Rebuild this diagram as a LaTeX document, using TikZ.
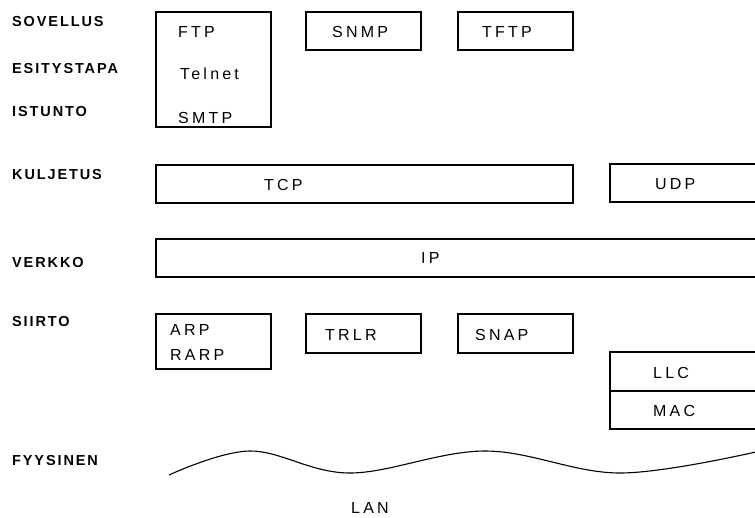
\documentclass[tikz,border=0pt]{standalone}
\usepackage{fontspec}
\setmainfont{Liberation Sans}
\begin{document}
\begin{tikzpicture}[x=1pt,y=-1pt,
  box/.style={draw,line width=1.3pt},
  lbl/.style={anchor=west,inner sep=0pt,font=\fontsize{14.5}{16}\selectfont\bfseries\addfontfeatures{LetterSpace=13}},
  txt/.style={anchor=west,inner sep=0pt,font=\fontsize{16}{18}\selectfont\addfontfeatures{LetterSpace=20}}]
\useasboundingbox (0,0) rectangle (755,517);
\clip (0,0) rectangle (755,517);
% layer labels
\node[lbl] (l1) at (12,22) {SOVELLUS};
\node[lbl] (l2) at (12,69) {ESITYSTAPA};
\node[lbl] (l3) at (12,112) {ISTUNTO};
\node[lbl] (l4) at (12,175) {KULJETUS};
\node[lbl] (l5) at (12,263) {VERKKO};
\node[lbl] (l6) at (12,322) {SIIRTO};
\node[lbl] (l7) at (12,461) {FYYSINEN};
% boxes
\draw[box] (156,12) rectangle (271,127) coordinate (bftp);
\draw[box] (306,12) rectangle (421,50) coordinate (bsnmp);
\draw[box] (458,12) rectangle (573,50) coordinate (btftp);
\draw[box] (156,165) rectangle (573,203) coordinate (btcp);
\draw[box] (610,164) rectangle (765,202) coordinate (budp);
\draw[box] (156,239) rectangle (765,277) coordinate (bip);
\draw[box] (156,314) rectangle (271,369) coordinate (barp);
\draw[box] (306,314) rectangle (421,353) coordinate (btrlr);
\draw[box] (458,314) rectangle (573,353) coordinate (bsnap);
\draw[box] (610,352) rectangle (765,429) coordinate (bllc);
\draw[box] (610,391) -- (765,391);
% texts
\node[txt] (tftp) at (178,32) {FTP};
\node[txt] (ttel) at (180,73.5) {Telnet};
\node[txt] (tsmtp) at (178,117.5) {SMTP};
\node[txt] (tsnmp) at (332,31.5) {SNMP};
\node[txt] (ttftp) at (482,31.5) {TFTP};
\node[txt] (ttcp) at (264,184.5) {TCP};
\node[txt] (tudp) at (655,184.5) {UDP};
\node[txt] (tip) at (421,258) {IP};
\node[txt] (tarp) at (170,329.5) {ARP};
\node[txt] (trarp) at (170,355) {RARP};
\node[txt] (ttrlr) at (325,335) {TRLR};
\node[txt] (tsnap) at (475,335) {SNAP};
\node[txt] (tllc) at (653,372.5) {LLC};
\node[txt] (tmac) at (653,410.5) {MAC};
% wave
\draw[line width=1.1pt] plot[smooth,tension=0.6] coordinates {(169,475) (250,451) (350,473) (485,451) (620,473) (760,451)};
\node[txt] (tlan) at (351,508) {LAN};
\end{tikzpicture}
\end{document}
